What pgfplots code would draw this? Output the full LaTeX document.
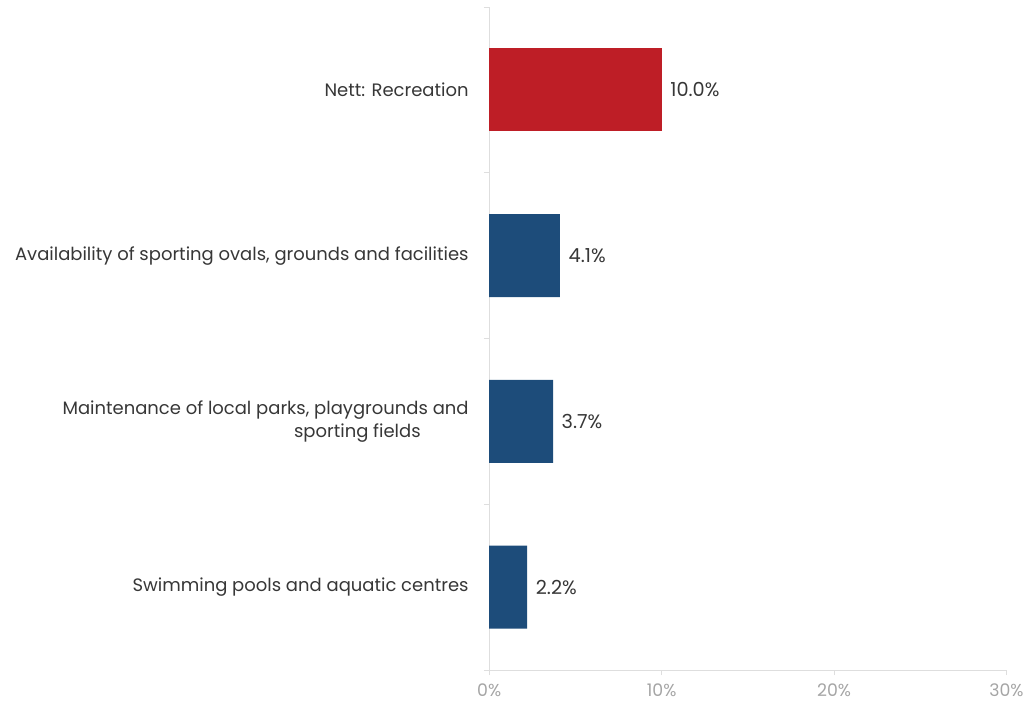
\documentclass[border=0pt]{standalone}
\usepackage{pgfplots}
\pgfplotsset{compat=1.18}
\usepackage{fontspec}
\setmainfont{Poppins}
\definecolor{barred}{RGB}{190,30,38}
\definecolor{barblue}{RGB}{29,76,122}
\definecolor{txt}{RGB}{55,55,55}
\definecolor{axgray}{RGB}{222,222,222}
\definecolor{ticktxt}{RGB}{165,165,165}
\begin{document}
\begin{tikzpicture}[x=1pt,y=1pt]
\begin{axis}[
  at={(0pt,0pt)}, anchor=south west,
  scale only axis,
  width=388.5pt, height=498pt,
  xbar, bar width=0.5,
  xmin=0, xmax=30,
  ymin=-0.5, ymax=3.5,
  axis x line=bottom, axis y line=left,
  axis line style={-, draw=axgray, line width=0.6pt},
  major tick length=4pt,
  minor tick length=4pt,
  tick align=outside,
  xtick={0,10,20,30},
  xticklabel={\pgfmathprintnumber{\tick}\%},
  /pgf/number format/assume math mode=true,
  xticklabel style={font=\fontsize{13}{15}\selectfont, text=ticktxt, yshift=-3pt},
  x tick style={draw=axgray, line width=0.6pt},
  ytick={0,1,2,3},
  minor ytick={-0.5,0.5,1.5,2.5,3.5},
  yticklabels={Swimming pools and aquatic centres, {Maintenance of local parks, playgrounds and\\sporting fields\hspace*{36pt}}, {Availability of sporting ovals, grounds and facilities}, Nett: Recreation},
  yticklabel style={font=\fontsize{13.5}{17}\selectfont, text=txt, align=right, xshift=-8pt},
  major y tick style={draw=none},
  minor y tick style={draw=axgray, line width=0.6pt},
  nodes near coords={\pgfmathprintnumber[fixed,fixed zerofill,precision=1]{\pgfplotspointmeta}\%},
  nodes near coords style={font=\fontsize{14.5}{16}\selectfont, text=txt, anchor=west, xshift=3pt},
  point meta=x,
  clip=false,
]
\addplot[fill=barred, draw=none, bar shift=0pt] coordinates {(10.0,3)};
\addplot[fill=barblue, draw=none, bar shift=0pt] coordinates {(4.1,2) (3.7,1) (2.2,0)};
\end{axis}
\path[use as bounding box] (-367.5pt,-26.25pt) rectangle (403.5pt,503.25pt);
\end{tikzpicture}
\end{document}
